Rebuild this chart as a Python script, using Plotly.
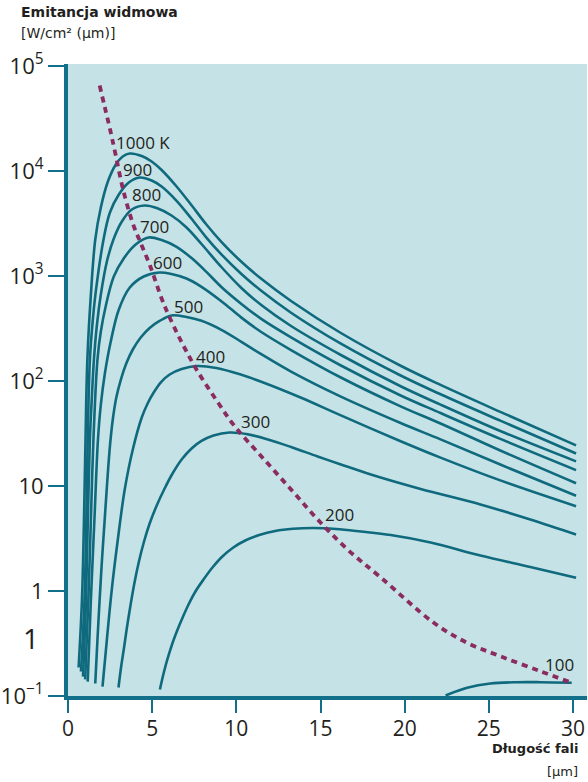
import plotly.graph_objects as go

# ---- data (wavelength in µm, emittance) ----
T1000_x = [0.63, 0.83, 0.95, 1.04, 1.15, 1.36, 1.62, 1.95, 2.37, 2.84, 3.25, 3.67, 4.38, 4.97, 5.56, 6.45, 7.34, 8.22, 9.11, 10.30, 11.48, 13.25, 16.21, 19.76, 22.13, 25.68, 30.18]
T1000_y = [0.187, 0.83, 4.8, 27.7, 160, 667, 2228, 4490, 7943, 11530, 13740, 14680, 13900, 12320, 10220, 7120, 4713, 3094, 2117, 1365, 940, 578, 286.5, 139.8, 91.8, 50.8, 24.4]

T900_x = [0.77, 0.98, 1.09, 1.17, 1.30, 1.45, 1.63, 2.11, 2.49, 3.02, 3.61, 4.26, 4.97, 5.56, 6.45, 7.34, 8.22, 9.11, 10.30, 11.48, 13.25, 16.21, 19.76, 22.13, 25.68, 30.18]
T900_y = [0.171, 0.83, 4.8, 27.7, 160, 345, 667, 2228, 4027, 5973, 7772, 8671, 8121, 7120, 5203, 3506, 2321, 1606, 1045, 723, 447, 226.6, 112.8, 74.7, 41.9, 20.4]

T800_x = [0.89, 1.07, 1.18, 1.30, 1.41, 1.54, 1.72, 1.95, 2.31, 2.70, 3.20, 3.79, 4.56, 5.27, 6.15, 7.04, 7.93, 9.11, 10.30, 11.48, 13.25, 16.21, 19.76, 22.13, 25.68, 30.18]
T800_y = [0.153, 0.83, 4.8, 27.7, 66.6, 160, 345, 667, 1374, 2228, 3304, 4298, 4693, 4442, 3769, 2897, 2017, 1218, 769, 529, 334, 176.8, 89.2, 59.6, 33.4, 17.15]

T700_x = [1.02, 1.21, 1.36, 1.51, 1.75, 1.95, 2.25, 2.72, 3.31, 4.02, 4.79, 5.56, 6.45, 7.34, 8.22, 9.11, 10.30, 11.48, 13.25, 16.21, 19.76, 22.13, 25.68, 30.18]
T700_y = [0.144, 0.83, 4.8, 27.7, 160, 296, 524, 989, 1468, 1995, 2326, 2203, 1897, 1481, 1094, 787, 542, 390, 260, 140.5, 72.8, 49.5, 28.1, 14.17]

T600_x = [1.17, 1.36, 1.57, 1.78, 1.95, 2.19, 2.54, 3.02, 3.67, 4.50, 5.44, 6.15, 7.04, 7.93, 9.11, 10.30, 11.48, 13.25, 16.21, 19.76, 22.13, 25.68, 30.18]
T600_y = [0.137, 0.83, 4.8, 27.7, 59.7, 117.9, 237.8, 479.7, 777.2, 989, 1080, 1045, 946.6, 789, 575.4, 401.6, 292.9, 197.3, 108, 57.4, 39.4, 21.78, 10.63]

T500_x = [1.62, 1.75, 1.88, 2.02, 2.18, 2.34, 2.50, 2.66, 2.87, 3.14, 3.46, 3.85, 4.32, 4.85, 5.44, 6.15, 7.04, 7.93, 9.11, 10.30, 11.48, 13.25, 16.21, 19.76, 22.13, 25.68, 30.18]
T500_y = [0.1315, 0.345, 0.83, 1.995, 4.8, 11.53, 24.85, 42.98, 69.64, 103.3, 146.8, 199.5, 259.6, 319.8, 372.8, 420.5, 406.8, 374.4, 307.4, 236.3, 180, 122.9, 71.0, 39.8, 27.8, 16.0, 8.07]

T400_x = [2.05, 2.31, 2.60, 2.96, 3.37, 3.85, 4.38, 4.73, 5.09, 5.53, 6.04, 6.75, 7.63, 8.82, 10.30, 11.48, 13.85, 16.21, 19.76, 22.13, 25.68, 30.18]
T400_y = [0.123, 0.345, 1.033, 3.094, 9.26, 22.27, 44.9, 61.06, 77.7, 97.8, 115.3, 130.1, 138.9, 133.0, 114.6, 98.3, 69.2, 47.0, 26.7, 18.64, 11.31, 6.42]

T300_x = [3.00, 3.15, 3.33, 3.51, 3.71, 3.94, 4.20, 4.50, 4.85, 5.27, 5.74, 6.21, 6.75, 7.34, 7.93, 8.64, 9.59, 10.59, 11.88, 13.25, 14.83, 16.21, 17.99, 20.95, 24.50, 27.46, 30.18]
T300_y = [0.1205, 0.1868, 0.2897, 0.4591, 0.7276, 1.179, 1.868, 2.897, 4.394, 6.522, 9.467, 13.15, 17.88, 22.76, 26.83, 30.27, 32.33, 31.28, 27.73, 23.52, 19.1, 16.03, 12.87, 9.364, 6.665, 4.797, 3.451]

T200_x = [5.46, 5.62, 5.80, 6.01, 6.24, 6.51, 6.81, 7.16, 7.57, 8.05, 8.58, 9.17, 9.82, 10.53, 11.36, 12.31, 13.37, 14.56, 15.92, 17.40, 19.17, 21.54, 24.50, 27.46, 30.18]
T200_y = [0.1153, 0.150, 0.1952, 0.254, 0.3304, 0.4299, 0.5594, 0.7436, 0.989, 1.287, 1.674, 2.131, 2.596, 3.027, 3.415, 3.728, 3.912, 3.981, 3.895, 3.687, 3.415, 2.897, 2.178, 1.693, 1.336]

T100_x = [22.43, 23.71, 25.09, 26.67, 28.05, 29.92]
T100_y = [0.101, 0.1197, 0.1315, 0.1353, 0.1353, 0.1336]

wien_x = [1.88, 2.19, 2.50, 2.80, 3.30, 3.89, 4.28, 4.87, 5.56, 5.96, 6.55, 7.04, 7.63, 8.92, 9.90, 11.48, 13.25, 14.83, 16.61, 18.58, 21.73, 23.71, 25.68, 28.05, 29.92]
wien_y = [65200, 40270, 24830, 15000, 6380, 3030, 2132, 1259, 611, 430, 271, 191, 128.7, 62.0, 37.1, 19.2, 9.26, 4.80, 2.48, 1.345, 0.498, 0.321, 0.2393, 0.1722, 0.1336]

curve_labels = ["1000 K", "900", "800", "700", "600", "500", "400", "300", "200", "100"]
x_ticks = [0, 5, 10, 15, 20, 25, 30]
y_tickvals = [0.1, 1, 10, 100, 1000, 10000, 100000]
y_ticktext = ["10<sup>−1</sup>", "1", "10", "10<sup>2</sup>", "10<sup>3</sup>", "10<sup>4</sup>", "10<sup>5</sup>"]

TEAL = "#0f6a7e"
AXIS = "#13708a"
WIEN = "#8a2c60"
TXT = "#231f20"
FONT = "Open Sans"

curves = [(T1000_x, T1000_y), (T900_x, T900_y), (T800_x, T800_y), (T700_x, T700_y),
          (T600_x, T600_y), (T500_x, T500_y), (T400_x, T400_y), (T300_x, T300_y),
          (T200_x, T200_y), (T100_x, T100_y)]

fig = go.Figure()
for cx, cy in curves:
    fig.add_trace(go.Scatter(x=cx, y=cy, mode="lines",
                             line=dict(color=TEAL, width=2.6, shape="spline", smoothing=1.0),
                             hoverinfo="skip"))
fig.add_trace(go.Scatter(x=wien_x, y=wien_y, mode="lines",
                         line=dict(color=WIEN, width=3.8, dash="6px,5px", shape="spline", smoothing=1.0),
                         hoverinfo="skip"))

# curve labels (x in µm, y in log10 units)
label_pos = [(4.44, 4.267), (4.14, 4.014), (4.645, 3.776), (5.118, 3.471), (5.888, 3.124),
             (7.13, 2.714), (8.49, 2.238), (11.15, 1.614), (16.12, 0.724), (29.17, -0.70)]
annotations = []
for txt, (ax, ay) in zip(curve_labels, label_pos):
    annotations.append(dict(x=ax, y=ay, xref="x", yref="y", text=txt, showarrow=False,
                            xanchor="center", yanchor="middle",
                            font=dict(family=FONT, size=17, color=TXT)))

annotations += [
    dict(x=-0.094, y=1.0825, xref="paper", yref="paper", text="<b>Emitancja widmowa</b>",
         showarrow=False, xanchor="left", yanchor="middle",
         font=dict(family="DejaVu Sans", size=14, color=TXT)),
    dict(x=-0.094, y=1.049, xref="paper", yref="paper", text="[W/cm² (µm)]",
         showarrow=False, xanchor="left", yanchor="middle",
         font=dict(family="DejaVu Sans", size=14, color=TXT)),
    dict(x=0.9866, y=-0.0825, xref="paper", yref="paper", text="<b>Długość fali</b>",
         showarrow=False, xanchor="right", yanchor="middle",
         font=dict(family="DejaVu Sans", size=13, color=TXT)),
    dict(x=0.9866, y=-0.119, xref="paper", yref="paper", text="[µm]",
         showarrow=False, xanchor="right", yanchor="middle",
         font=dict(family="DejaVu Sans", size=13, color=TXT)),
    dict(x=-0.071, y=0.0913, xref="paper", yref="paper", text="1",
         showarrow=False, xanchor="center", yanchor="middle",
         font=dict(family=FONT, size=28, color=TXT)),
]

fig.update_layout(
    width=588, height=782,
    margin=dict(l=66, r=1, t=64, b=86),
    paper_bgcolor="white", plot_bgcolor="#c5e2e6",
    showlegend=False,
    font=dict(family=FONT, color=TXT),
    annotations=annotations,
    xaxis=dict(range=[0, 30.83], tickvals=x_ticks, ticks="outside", ticklen=13, tickwidth=2,
               tickcolor=AXIS, showline=True, linecolor=AXIS, linewidth=4, showgrid=False,
               zeroline=False, ticklabelstandoff=-2,
               tickfont=dict(family=FONT, size=21, color=TXT)),
    yaxis=dict(type="log", range=[-1, 5.019], tickvals=y_tickvals, ticktext=y_ticktext,
               ticks="outside", ticklen=16, tickwidth=2, tickcolor=AXIS, showline=True,
               linecolor=AXIS, linewidth=4, showgrid=False, zeroline=False,
               tickfont=dict(family=FONT, size=22, color=TXT)),
)

fig.write_html("out.html", config={"displayModeBar": False},
               post_script="document.body.style.margin='0';document.body.style.overflow='hidden';")
